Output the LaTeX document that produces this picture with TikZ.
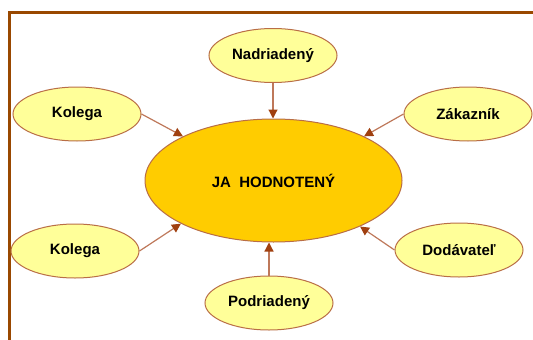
\documentclass[tikz,border=0pt]{standalone}
\usepackage{fontspec}
\setmainfont{Liberation Sans}
\usetikzlibrary{shapes.geometric,arrows.meta}
\definecolor{frame}{RGB}{153,72,0}
\definecolor{edge}{RGB}{190,120,90}
\definecolor{tip}{RGB}{160,64,16}
\definecolor{light}{RGB}{255,255,153}
\definecolor{gold}{RGB}{255,204,0}
\definecolor{rim}{RGB}{185,110,70}
\tikzset{
  small/.style={ellipse, draw=rim, line width=1pt, fill=light, minimum width=128pt, minimum height=54pt, inner sep=0pt, font=\fontsize{15}{17}\selectfont\bfseries},
  big/.style={ellipse, draw=rim, line width=1pt, fill=gold, minimum width=257pt, minimum height=123pt, inner sep=0pt, font=\fontsize{15}{17}\selectfont\bfseries},
  conn/.style={draw=edge, line width=1.2pt, -{Triangle[length=9pt,width=9pt,fill=tip,color=tip]}}
}
\begin{document}
\begin{tikzpicture}[x=1pt,y=-1pt]
\useasboundingbox (0,0) rectangle (533,340);
\draw[frame, line width=3.2pt] (9.5,340) -- (9.5,12.5) -- (533,12.5);
\node[big] (main) at (273.5,180.5) {JA\ \ HODNOTENÝ};
\node[small] (top) at (273,55.5) {Nadriadený};
\node[small] (kol1) at (77,114) {Kolega};
\node[small] (zak) at (468,114) {Zákazník};
\node[small] (kol2) at (75,251) {Kolega};
\node[small] (dod) at (459,250) {Dodávateľ};
\node[small] (pod) at (269,303) {Podriadený};
\draw[conn] (top.south) -- (top.south |- main.north);
\draw[conn] (pod.north) -- (pod.north |- main.south);
\draw[conn] (kol1.east) -- (main.154.6);
\draw[conn] (zak.west) -- (main.26.2);
\draw[conn] (kol2.east) -- (main.205);
\draw[conn] (dod.west) -- (main.332);
\end{tikzpicture}
\end{document}
